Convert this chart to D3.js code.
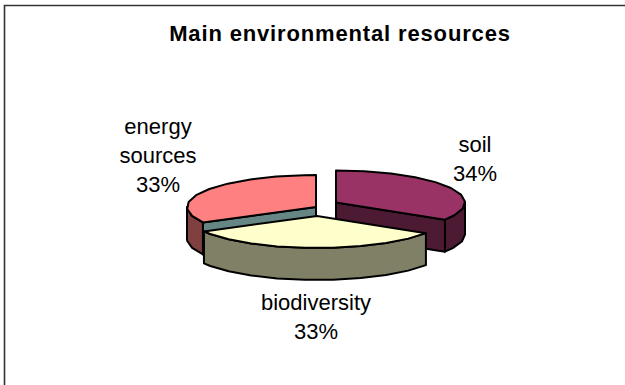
<!DOCTYPE html>
<html>
<head>
<script src="https://d3js.org/d3.v7.min.js"></script>
<style>
html, body { margin: 0; background: #fff; }
text { font-family: "Liberation Sans", Arial, sans-serif; fill: #000; }
</style>
</head>
<body>
<svg width="625" height="385"></svg>
<script>
var categories = ["soil", "biodiversity", "energy sources"];
var values = [34, 33, 33];
var percentLabels = ["34%", "33%", "33%"];
var labelLines = [["soil"], ["biodiversity"], ["energy", "sources"]];
var topColors = ["#993366", "#FFFFCC", "#FF8080"];
var wallColors = ["#4D1A33", "#808066", "#804040"];
var cutColors = ["#4D1A33", "#808066", "#668585"];

var svg = d3.select("svg");
var rx = 129, ry = 32, depth = 32;
// centre of each exploded slice
var centers = [[336, 202.5], [317, 216], [316, 207]];
var labelPos = [[475, 152], [316, 310], [158, 134]];

svg.append("path")
    .attr("d", "M4.5,385V5.5H625")
    .attr("fill", "none")
    .attr("stroke", "#333")
    .attr("stroke-width", 1.6);

svg.append("text")
    .attr("x", 340)
    .attr("y", 41)
    .attr("text-anchor", "middle")
    .attr("font-weight", "bold")
    .attr("font-size", 22)
    .attr("letter-spacing", 0.85)
    .text("Main environmental resources");

var arcs = d3.pie().sort(null)(values);
var line = d3.line();

function pt(c, a, dy) {
    return [c[0] + rx * Math.sin(a), c[1] - ry * Math.cos(a) + (dy || 0)];
}

// rim points with coarse steps, the original outline is faceted
function rim(c, a0, a1, dy) {
    var pts = d3.range(a0, a1, 0.22).map(function (a) { return pt(c, a, dy); });
    pts.push(pt(c, a1, dy));
    return pts;
}

function drawPoly(pts, fill) {
    svg.append("path")
        .attr("d", line(pts) + "Z")
        .attr("fill", fill)
        .attr("stroke", "#000")
        .attr("stroke-width", 2)
        .attr("stroke-linejoin", "round");
}

// back slices first, biodiversity sits in front of them
[2, 0, 1].forEach(function (i) {
    var d = arcs[i], c = centers[i];
    var a0 = Math.max(d.startAngle, Math.PI / 2);
    var a1 = Math.min(d.endAngle, Math.PI * 1.5);
    // outer wall
    drawPoly(rim(c, a0, a1, 0).concat(rim(c, a0, a1, depth).reverse()), wallColors[i]);
    // cut faces that turn toward the viewer
    if (i == 0) {
        var e = pt(c, d.endAngle);
        drawPoly([c, e, [e[0], e[1] + depth], [c[0], c[1] + depth]], cutColors[i]);
    }
    if (i == 2) {
        var s = pt(c, d.startAngle);
        drawPoly([c, s, [s[0], s[1] + depth], [c[0], c[1] + depth]], cutColors[i]);
    }
    // top
    drawPoly([c].concat(rim(c, d.startAngle, d.endAngle, 0)), topColors[i]);
});

categories.forEach(function (name, i) {
    var rows = labelLines[i].concat([percentLabels[i]]);
    rows.forEach(function (row, j) {
        svg.append("text")
            .attr("x", labelPos[i][0])
            .attr("y", labelPos[i][1] + j * 29)
            .attr("text-anchor", "middle")
            .attr("font-size", 22)
            .text(row);
    });
});
</script>
</body>
</html>
